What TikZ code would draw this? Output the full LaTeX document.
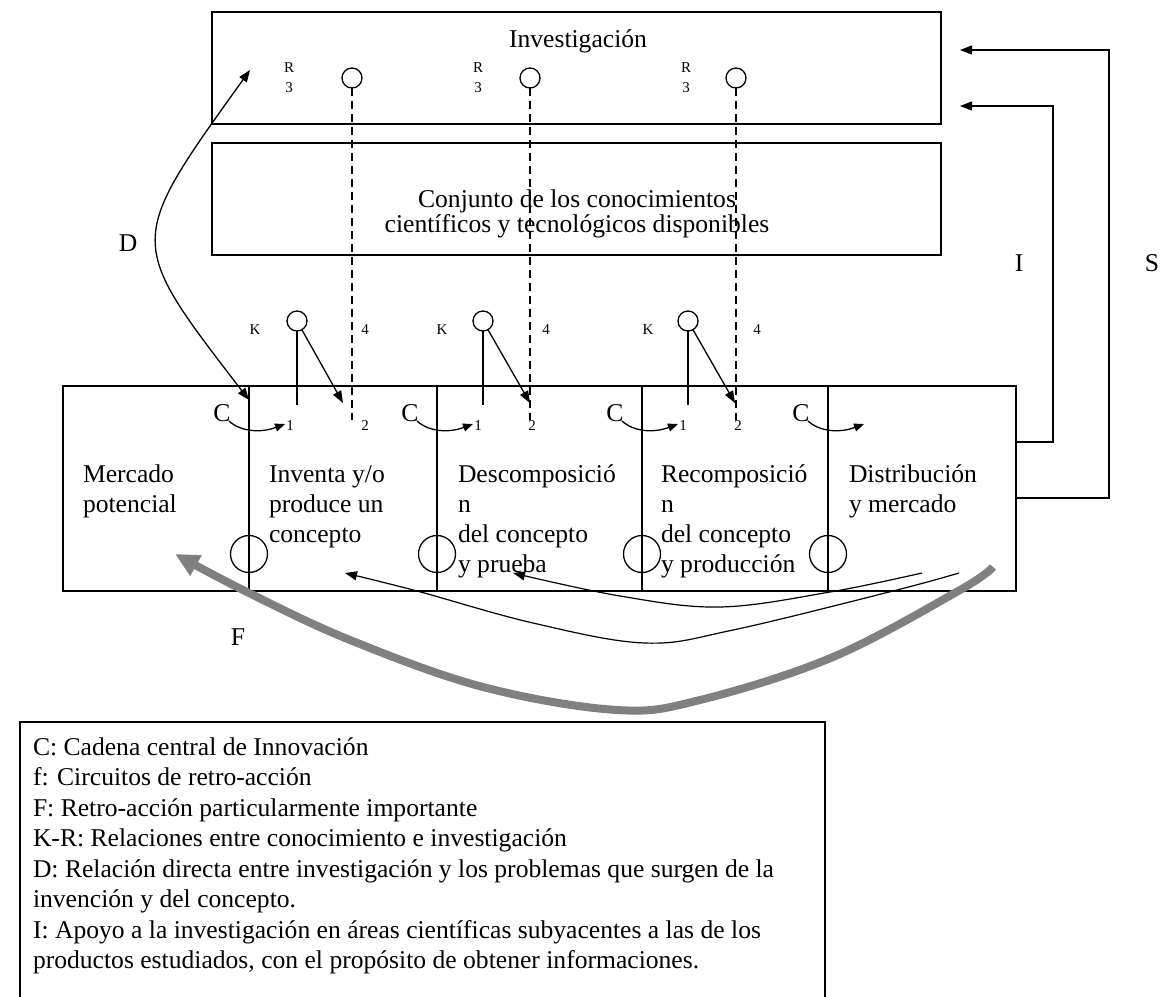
\documentclass[tikz,border=0pt]{standalone}
\usepackage{fontspec}
\setmainfont{Liberation Serif}
\usetikzlibrary{arrows.meta}
\begin{document}
\begin{tikzpicture}[x=1pt,y=-1pt,
 every node/.style={inner sep=0pt, outer sep=0pt},
 ln/.style={line width=1.3pt},
 tip/.style={-{Triangle[length=12pt,width=9pt]}},
 ctip/.style={-{Triangle[length=10pt,width=8pt]}},
 txt/.style={font=\fontsize{25.6}{30}\selectfont},
 sml/.style={font=\fontsize{15}{18}\selectfont},
 dsh/.style={line width=1.3pt, dash pattern=on 8pt off 5pt},
 ring/.style={draw, circle, line width=1.3pt, minimum size=20pt},
 bring/.style={draw, circle, line width=1.3pt, minimum size=37pt},
 boxn/.style={draw, rectangle, line width=1.3pt}]

\useasboundingbox (0,0) rectangle (1166,996);

% boxes
\node[boxn, minimum width=729pt, minimum height=112pt] (inv) at (576.5,68) {};
\node[boxn, minimum width=729pt, minimum height=112pt] (con) at (576.5,199) {};
\node[boxn, minimum width=953pt, minimum height=205pt] (chain) at (539.5,488.5) {};

\node[txt, anchor=base] (tinv) at (578,47) {Investigación};
\node[txt, anchor=base] (tcon1) at (577,207) {Conjunto de los conocimientos};
\node[txt, anchor=base] (tcon2) at (577,232) {científicos y tecnológicos disponibles};

% dividers
\foreach \x in {249,437,642,828} \draw[ln] (\x,386) -- (\x,591);

% R circles and dashed links
\foreach \i/\x/\rx in {1/352/289, 2/530/478, 3/736/686} {
  \node[ring] (r\i) at (\x,78) {};
  \node[sml] (rl\i) at (\rx,68) {R};
  \node[sml] (rn\i) at (\rx,88) {3};
  \coordinate (d\i) at (\x,420);
  \draw[dsh] (r\i.south) -- (d\i);
}

% K circles
\foreach \i/\x/\kx/\fx/\tx in {1/297/255/365/343, 2/483/442/546/530, 3/688/648/757/735} {
  \node[ring] (k\i) at (\x,321) {};
  \node[sml] (kl\i) at (\kx,330) {K};
  \node[sml] (fl\i) at (\fx,330) {4};
  \coordinate (ks\i) at (\x,405);
  \draw[ln] (k\i.south) -- (ks\i);
  \coordinate (kt\i) at (\tx,403);
  \draw[ln,tip] (k\i) -- (kt\i);
}

% C arrows and bottom circles
\foreach \i/\x in {1/249,2/437,3/642,4/828} {
  \node[txt] (c\i) at (\x-27,413) {C};
  \coordinate (cs\i) at (\x-20,421);
  \coordinate (ct\i) at (\x+36,424);
  \draw[ln,ctip] (cs\i) .. controls (\x-8,432) and (\x+12,433) .. (ct\i);
  \node[bring] (b\i) at (\x,554) {};
}
\foreach \i/\x in {1/290,2/478,3/683} \node[sml] (one\i) at (\x,426) {1};
\foreach \i/\x in {1/365,2/532,3/738} \node[sml] (two\i) at (\x,426) {2};

% chain texts
\node[txt, anchor=base west] (m1) at (83,482) {Mercado};
\node[txt, anchor=base west] (m2) at (83,512) {potencial};
\node[txt, anchor=base west] (i1) at (269,482) {Inventa y/o};
\node[txt, anchor=base west] (i2) at (269,512) {produce un};
\node[txt, anchor=base west] (i3) at (269,542) {concepto};
\node[txt, anchor=base west] (de1) at (458,482) {Descomposició};
\node[txt, anchor=base west] (de2) at (458,512) {n};
\node[txt, anchor=base west] (de3) at (458,542) {del concepto};
\node[txt, anchor=base west] (de4) at (458,572) {y prueba};
\node[txt, anchor=base west] (re1) at (661,482) {Recomposició};
\node[txt, anchor=base west] (re2) at (661,512) {n};
\node[txt, anchor=base west] (re3) at (661,542) {del concepto};
\node[txt, anchor=base west] (re4) at (661,572) {y producción};
\node[txt, anchor=base west] (di1) at (849,482) {Distribución};
\node[txt, anchor=base west] (di2) at (849,512) {y mercado};

% D arrow
\coordinate (dB) at (249,400);
\coordinate (dT) at (250,70);
\draw[ln, {Triangle[length=12pt,width=9pt]}-{Triangle[length=12pt,width=9pt]}] (dB) .. controls (126,240) and (126,243) .. (dT);

% I and S arrows
\coordinate (iS) at (1016,442); \coordinate (iT) at (960,106);
\draw[ln,tip] (iS) -- (1053,442) -- (1053,106) -- (iT);
\coordinate (sS) at (1016,498); \coordinate (sT) at (960,50);
\draw[ln,tip] (sS) -- (1109,498) -- (1109,50) -- (sT);

% labels
\node[txt] (lD) at (128,243) {D};
\node[txt] (lI) at (1019,263) {I};
\node[txt] (lS) at (1152,263) {S};
\node[txt] (lF) at (238,637) {F};

% feedback arrows
\draw[line width=1.2pt, tip] plot[smooth, tension=0.6] coordinates {(922,573) (830,592) (720,607) (620,596) (513,573)};
\draw[line width=1.2pt, tip] plot[smooth, tension=0.6] coordinates {(959,573) (893,591) (733,630) (645,643) (533,623) (417,591) (345,573)};
\draw[line width=8pt, color=gray, -{Triangle[length=24pt,width=22pt]}] plot[smooth, tension=0.6] coordinates {(993,567) (960,590) (833,657) (700,700) (617,710) (483,687) (350,640) (247,592) (175,554)};

% legend
\node[draw, line width=1.3pt, minimum width=805pt, minimum height=290pt, anchor=north west] (leg) at (20,722) {};
\foreach \t [count=\i] in {{C: Cadena central de Innovación},{f: Circuitos de retro-acción},{F: Retro-acción particularmente importante},{K-R: Relaciones entre conocimiento e investigación},{D: Relación directa entre investigación y los problemas que surgen de la},{invención y del concepto.},{I: Apoyo a la investigación en áreas científicas subyacentes a las de los},{productos estudiados, con el propósito de obtener informaciones.}}
  \node[txt, anchor=base west] (lg\i) at (33,724.5+30.5*\i) {\t};
\end{tikzpicture}
\end{document}
